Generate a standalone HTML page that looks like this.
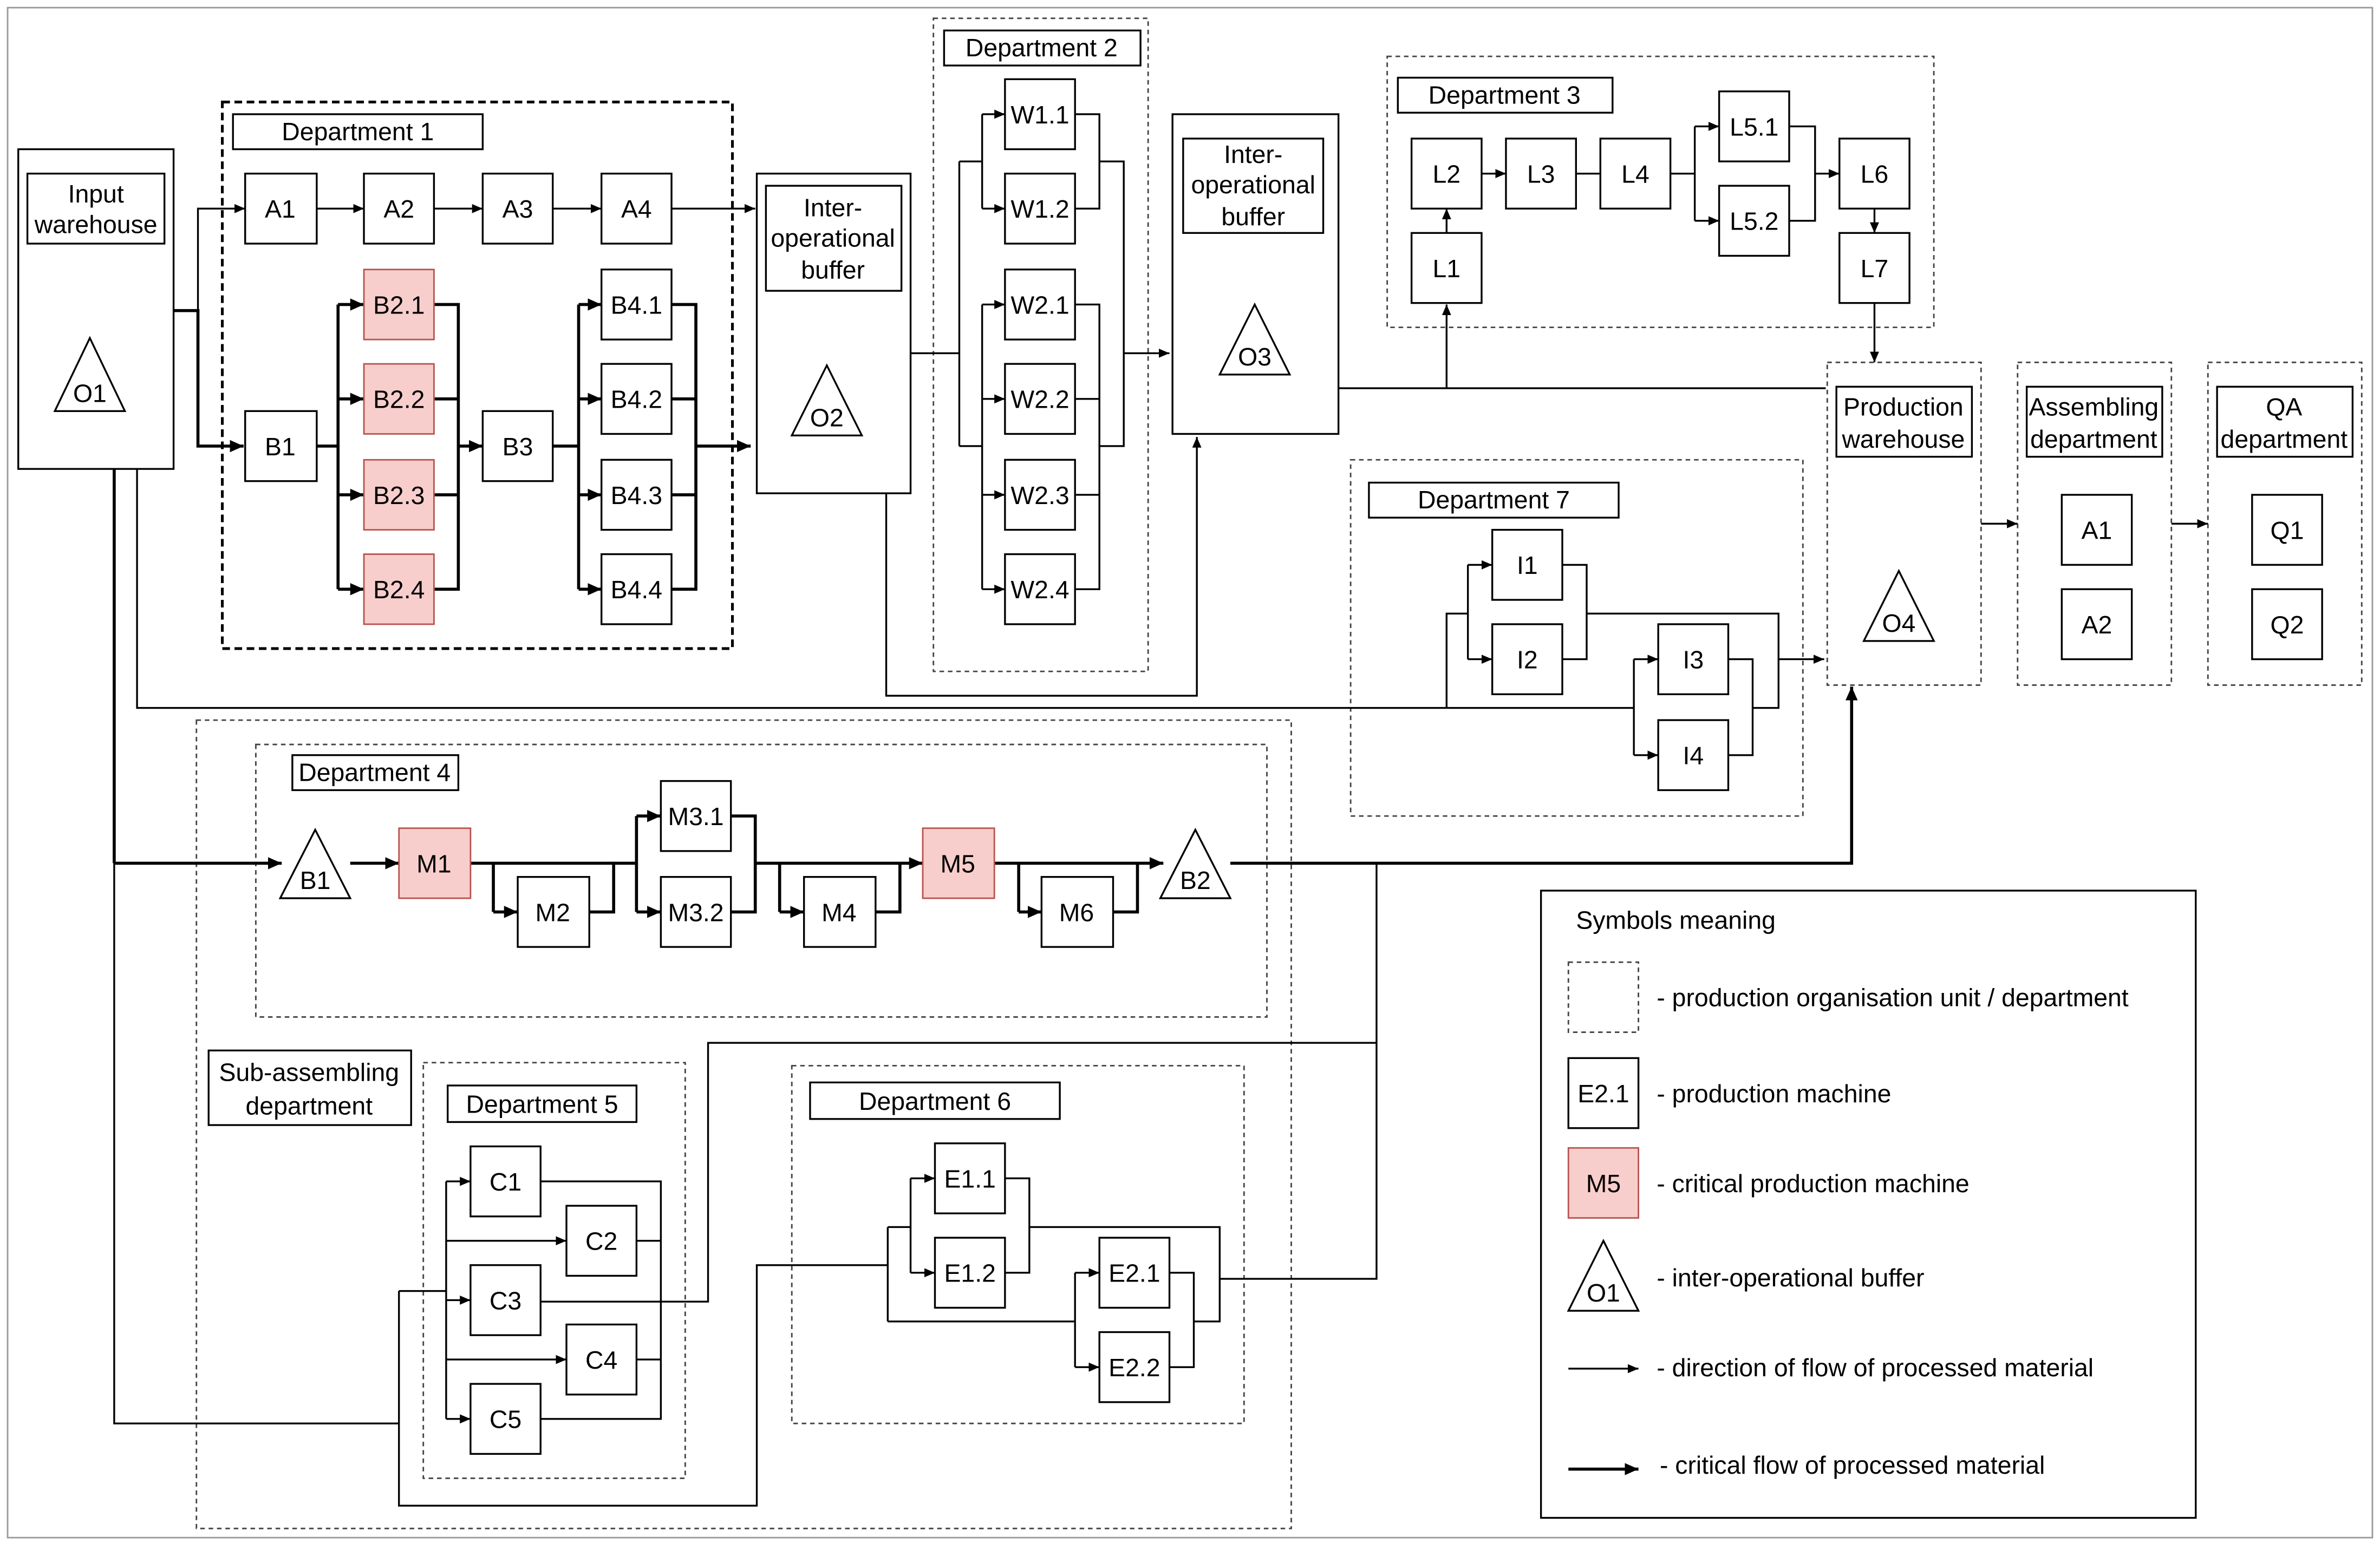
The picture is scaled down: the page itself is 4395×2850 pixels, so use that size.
<!DOCTYPE html>
<html><head><meta charset="utf-8"><style>
html,body{margin:0;padding:0;background:#fff;}
svg{display:block;}
text{font-family:"Liberation Sans",sans-serif;font-size:16.5px;fill:#000;}
</style></head><body>
<svg width="4395" height="2850" viewBox="0 0 1563 1013.5" xmlns="http://www.w3.org/2000/svg">
<defs>
<marker id="a" markerUnits="userSpaceOnUse" markerWidth="8" markerHeight="8" refX="7" refY="4" orient="auto"><path d="M0,1 L7,4 L0,7 z" fill="#000"/></marker>
<marker id="b" markerUnits="userSpaceOnUse" markerWidth="10" markerHeight="10" refX="9" refY="5" orient="auto"><path d="M0,1 L9,5 L0,9 z" fill="#000"/></marker>
</defs>
<rect x="0" y="0" width="1563" height="1013.5" fill="#fff"/>
<rect x="5" y="5" width="1553" height="1005" fill="none" stroke="#999" stroke-width="1"/>

<g fill="#fff" stroke="#000" stroke-width="1.2">
<rect x="12" y="98" width="102" height="210"/>
<rect x="497" y="114" width="101" height="210"/>
<rect x="770" y="75" width="109" height="210"/>
<rect x="1012" y="585" width="430" height="412"/>
</g>

<g fill="none" stroke="#444" stroke-width="1" stroke-dasharray="3,2.5">
<rect x="613" y="12" width="141" height="429"/>
<rect x="911" y="37" width="359" height="178"/>
<rect x="1200" y="238" width="101" height="212"/>
<rect x="1325" y="238" width="101" height="212"/>
<rect x="1450" y="238" width="101" height="212"/>
<rect x="887" y="302" width="297" height="234"/>
<rect x="129" y="473" width="719" height="531"/>
<rect x="168" y="489" width="664" height="179"/>
<rect x="278" y="698" width="172" height="273"/>
<rect x="520" y="700" width="297" height="235"/>
<rect x="1030" y="632" width="46" height="46"/>
</g>
<rect x="146" y="67" width="335" height="359" fill="none" stroke="#000" stroke-width="1.8" stroke-dasharray="5,3"/>

<!-- label boxes -->
<g fill="#fff" stroke="#000" stroke-width="1.2">
<rect x="18" y="114" width="90" height="46"/>
<rect x="153" y="75" width="164" height="23"/>
<rect x="503" y="122" width="89" height="69"/>
<rect x="620" y="20" width="129" height="23"/>
<rect x="777" y="91" width="92" height="62"/>
<rect x="918" y="51" width="141" height="23"/>
<rect x="1206" y="254" width="89" height="46"/>
<rect x="1331" y="254" width="89" height="46"/>
<rect x="1456" y="254" width="89" height="46"/>
<rect x="899" y="317" width="164" height="23"/>
<rect x="192" y="496" width="109" height="23"/>
<rect x="137" y="690" width="133" height="49"/>
<rect x="294" y="713" width="124" height="24"/>
<rect x="532" y="711" width="164" height="24"/>
</g>
<g text-anchor="middle">
<text x="63" y="133">Input</text><text x="63" y="153">warehouse</text>
<text x="235" y="92">Department 1</text>
<text x="547" y="142">Inter-</text><text x="547" y="162">operational</text><text x="547" y="183">buffer</text>
<text x="684" y="37">Department 2</text>
<text x="823" y="107">Inter-</text><text x="823" y="127">operational</text><text x="823" y="148">buffer</text>
<text x="988" y="68">Department 3</text>
<text x="1250" y="273">Production</text><text x="1250" y="294">warehouse</text>
<text x="1375" y="273">Assembling</text><text x="1375" y="294">department</text>
<text x="1500" y="273">QA</text><text x="1500" y="294">department</text>
<text x="981" y="334">Department 7</text>
<text x="246" y="513">Department 4</text>
<text x="203" y="710">Sub-assembling</text><text x="203" y="732">department</text>
<text x="356" y="731">Department 5</text>
<text x="614" y="729">Department 6</text>
</g>

<!-- triangles -->
<g fill="#fff" stroke="#000" stroke-width="1.2">
<path d="M59,222 L82,270 L36,270 Z"/>
<path d="M543,240 L566,286 L520,286 Z"/>
<path d="M824,200 L847,246 L801,246 Z"/>
<path d="M1247,375 L1270,421 L1224,421 Z"/>
<path d="M207,545 L230,590 L184,590 Z"/>
<path d="M785,545 L808,590 L762,590 Z"/>
<path d="M1053,815 L1076,861 L1030,861 Z"/>
</g>
<g text-anchor="middle">
<text x="59" y="264">O1</text><text x="543" y="280">O2</text><text x="824" y="240">O3</text>
<text x="1247" y="415">O4</text><text x="207" y="584">B1</text><text x="785" y="584">B2</text>
<text x="1053" y="855">O1</text>
</g>

<!-- connectors thin -->
<g fill="none" stroke="#000" stroke-width="1.2">
<path d="M130,204 L130,137 L161,137" marker-end="url(#a)"/>
<path d="M208,137 L239,137" marker-end="url(#a)"/>
<path d="M285,137 L317,137" marker-end="url(#a)"/>
<path d="M363,137 L395,137" marker-end="url(#a)"/>
<path d="M441,137 L496,137" marker-end="url(#a)"/>
<!-- dept2 -->
<path d="M598,232 L630,232 M630,106 L630,293 M630,106 L645,106 M630,293 L645,293"/>
<path d="M645,75 L645,137 M645,200 L645,387"/>
<path d="M645,75 L660,75" marker-end="url(#a)"/><path d="M645,137 L660,137" marker-end="url(#a)"/>
<path d="M645,200 L660,200" marker-end="url(#a)"/><path d="M645,262 L660,262" marker-end="url(#a)"/>
<path d="M645,325 L660,325" marker-end="url(#a)"/><path d="M645,387 L660,387" marker-end="url(#a)"/>
<path d="M706,75 L722,75 L722,137 L706,137 M706,200 L722,200 L722,387 L706,387 M706,262 L722,262 M706,325 L722,325"/>
<path d="M722,106 L738,106 L738,293 L722,293"/>
<path d="M738,232 L768,232" marker-end="url(#a)"/>
<path d="M582,324 L582,457 L786,457 L786,287" marker-end="url(#a)"/>
<!-- dept3 -->
<path d="M950,153 L950,137" marker-end="url(#a)"/>
<path d="M973,114 L989,114" marker-end="url(#a)"/>
<path d="M1035,114 L1051,114"/>
<path d="M1097,114 L1113,114 M1113,83 L1113,145"/>
<path d="M1113,83 L1129,83" marker-end="url(#a)"/><path d="M1113,145 L1129,145" marker-end="url(#a)"/>
<path d="M1175,83 L1192,83 L1192,145 L1175,145"/>
<path d="M1192,114 L1208,114" marker-end="url(#a)"/>
<path d="M1231,137 L1231,153" marker-end="url(#a)"/>
<path d="M1231,199 L1231,238" marker-end="url(#a)"/>
<path d="M879,255 L1199,255"/>
<path d="M950,255 L950,200" marker-end="url(#a)"/>
<path d="M1301,344 L1325,344" marker-end="url(#a)"/>
<path d="M1426,344 L1450,344" marker-end="url(#a)"/>
<!-- dept7 -->
<path d="M90,308 L90,465 L1073,465 M950,465 L950,403 L964,403 M964,371 L964,433"/>
<path d="M964,371 L980,371" marker-end="url(#a)"/><path d="M964,433 L980,433" marker-end="url(#a)"/>
<path d="M1026,371 L1042,371 L1042,433 L1026,433 M1042,403 L1168,403 L1168,465 L1151,465"/>
<path d="M1073,433 L1073,496"/>
<path d="M1073,433 L1089,433" marker-end="url(#a)"/><path d="M1073,496 L1089,496" marker-end="url(#a)"/>
<path d="M1135,433 L1151,433 L1151,496 L1135,496"/>
<path d="M1168,433 L1198,433" marker-end="url(#a)"/>
<!-- dept5/6 -->
<path d="M75,567 L75,935 L262,935 M262,848 L262,989 L497,989 L497,831 L583,831"/>
<path d="M262,848 L293,848 M293,776 L293,932"/>
<path d="M293,776 L309,776" marker-end="url(#a)"/><path d="M293,815 L372,815" marker-end="url(#a)"/>
<path d="M293,854 L309,854" marker-end="url(#a)"/><path d="M293,893 L372,893" marker-end="url(#a)"/>
<path d="M293,932 L309,932" marker-end="url(#a)"/>
<path d="M355,776 L434,776 L434,932 L355,932 M418,815 L434,815 M418,893 L434,893"/>
<path d="M355,855 L465,855 L465,685 L904,685 M904,567 L904,840 L801,840"/>
<path d="M583,806 L583,868 M583,806 L598,806 M598,774 L598,836"/>
<path d="M598,774 L614,774" marker-end="url(#a)"/><path d="M598,836 L614,836" marker-end="url(#a)"/>
<path d="M660,774 L676,774 L676,836 L660,836 M676,806 L801,806 L801,868 L784,868"/>
<path d="M583,868 L706,868 M706,836 L706,898"/>
<path d="M706,836 L722,836" marker-end="url(#a)"/><path d="M706,898 L722,898" marker-end="url(#a)"/>
<path d="M768,836 L784,836 L784,898 L768,898"/>
<path d="M1030,899 L1076,899" marker-end="url(#a)"/>
</g>

<!-- thick connectors -->
<g fill="none" stroke="#000" stroke-width="2">
<path d="M114,204 L130,204 L130,293 L160,293" marker-end="url(#b)"/>
<path d="M75,308 L75,567"/>
<path d="M208,293 L222,293 M222,200 L222,387"/>
<path d="M222,200 L239,200" marker-end="url(#b)"/><path d="M222,262 L239,262" marker-end="url(#b)"/>
<path d="M222,325 L239,325" marker-end="url(#b)"/><path d="M222,387 L239,387" marker-end="url(#b)"/>
<path d="M285,200 L301,200 L301,387 L285,387 M285,262 L301,262 M285,325 L301,325"/>
<path d="M301,293 L317,293" marker-end="url(#b)"/>
<path d="M363,293 L380,293 M380,200 L380,387"/>
<path d="M380,200 L395,200" marker-end="url(#b)"/><path d="M380,262 L395,262" marker-end="url(#b)"/>
<path d="M380,325 L395,325" marker-end="url(#b)"/><path d="M380,387 L395,387" marker-end="url(#b)"/>
<path d="M441,200 L457,200 L457,387 L441,387 M441,262 L457,262 M441,325 L457,325"/>
<path d="M457,293 L493,293" marker-end="url(#b)"/>
<path d="M75,567 L185,567" marker-end="url(#b)"/>
<path d="M230,567 L262,567" marker-end="url(#b)"/>
<path d="M309,567 L403,567 M324,567 L324,599"/>
<path d="M324,599 L340,599" marker-end="url(#b)"/>
<path d="M387,599 L403,599 L403,567 L418,567 M418,536 L418,599"/>
<path d="M418,536 L434,536" marker-end="url(#b)"/><path d="M418,599 L434,599" marker-end="url(#b)"/>
<path d="M480,536 L496,536 L496,599 L480,599 M496,567 L591,567 M512,567 L512,599"/>
<path d="M512,599 L528,599" marker-end="url(#b)"/>
<path d="M575,599 L591,599 L591,567"/>
<path d="M591,567 L606,567" marker-end="url(#b)"/>
<path d="M653,567 L747,567 M669,567 L669,599"/>
<path d="M669,599 L684,599" marker-end="url(#b)"/>
<path d="M731,599 L747,599 L747,567"/>
<path d="M747,567 L764,567" marker-end="url(#b)"/>
<path d="M808,567 L1216,567 L1216,451" marker-end="url(#b)"/>
<path d="M1030,965 L1076,965" marker-end="url(#b)"/>
</g>

<!-- machine boxes -->
<g fill="#fff" stroke="#000" stroke-width="1.2">
<rect x="161" y="114" width="47" height="46"/><rect x="239" y="114" width="46" height="46"/>
<rect x="317" y="114" width="46" height="46"/><rect x="395" y="114" width="46" height="46"/>
<rect x="161" y="270" width="47" height="46"/><rect x="317" y="270" width="46" height="46"/>
<rect x="395" y="177" width="46" height="46"/><rect x="395" y="239" width="46" height="46"/>
<rect x="395" y="302" width="46" height="46"/><rect x="395" y="364" width="46" height="46"/>
<rect x="660" y="52" width="46" height="46"/><rect x="660" y="114" width="46" height="46"/>
<rect x="660" y="177" width="46" height="46"/><rect x="660" y="239" width="46" height="46"/>
<rect x="660" y="302" width="46" height="46"/><rect x="660" y="364" width="46" height="46"/>
<rect x="927" y="91" width="46" height="46"/><rect x="989" y="91" width="46" height="46"/>
<rect x="1051" y="91" width="46" height="46"/><rect x="1129" y="60" width="46" height="46"/>
<rect x="1129" y="122" width="46" height="46"/><rect x="1208" y="91" width="46" height="46"/>
<rect x="1208" y="153" width="46" height="46"/><rect x="927" y="153" width="46" height="46"/>
<rect x="1354" y="325" width="46" height="46"/><rect x="1354" y="387" width="46" height="46"/>
<rect x="1479" y="325" width="46" height="46"/><rect x="1479" y="387" width="46" height="46"/>
<rect x="980" y="348" width="46" height="46"/><rect x="980" y="410" width="46" height="46"/>
<rect x="1089" y="410" width="46" height="46"/><rect x="1089" y="473" width="46" height="46"/>
<rect x="340" y="576" width="47" height="46"/><rect x="434" y="513" width="46" height="46"/>
<rect x="434" y="576" width="46" height="46"/><rect x="528" y="576" width="47" height="46"/>
<rect x="684" y="576" width="47" height="46"/>
<rect x="309" y="753" width="46" height="46"/><rect x="372" y="792" width="46" height="46"/>
<rect x="309" y="831" width="46" height="46"/><rect x="372" y="870" width="46" height="46"/>
<rect x="309" y="909" width="46" height="46"/>
<rect x="614" y="751" width="46" height="46"/><rect x="614" y="813" width="46" height="46"/>
<rect x="722" y="813" width="46" height="46"/><rect x="722" y="875" width="46" height="46"/>
<rect x="1030" y="695" width="46" height="46"/>
</g>
<g fill="#f8cecc" stroke="#b85450" stroke-width="1">
<rect x="239" y="177" width="46" height="46"/><rect x="239" y="239" width="46" height="46"/>
<rect x="239" y="302" width="46" height="46"/><rect x="239" y="364" width="46" height="46"/>
<rect x="262" y="544" width="47" height="46"/><rect x="606" y="544" width="47" height="46"/>
<rect x="1030" y="754" width="46" height="46"/>
</g>
<g text-anchor="middle">
<text x="184" y="143">A1</text><text x="262" y="143">A2</text><text x="340" y="143">A3</text><text x="418" y="143">A4</text>
<text x="184" y="299">B1</text><text x="340" y="299">B3</text>
<text x="262" y="206">B2.1</text><text x="262" y="268">B2.2</text><text x="262" y="331">B2.3</text><text x="262" y="393">B2.4</text>
<text x="418" y="206">B4.1</text><text x="418" y="268">B4.2</text><text x="418" y="331">B4.3</text><text x="418" y="393">B4.4</text>
<text x="683" y="81">W1.1</text><text x="683" y="143">W1.2</text><text x="683" y="206">W2.1</text>
<text x="683" y="268">W2.2</text><text x="683" y="331">W2.3</text><text x="683" y="393">W2.4</text>
<text x="950" y="120">L2</text><text x="1012" y="120">L3</text><text x="1074" y="120">L4</text>
<text x="1152" y="89">L5.1</text><text x="1152" y="151">L5.2</text><text x="1231" y="120">L6</text>
<text x="1231" y="182">L7</text><text x="950" y="182">L1</text>
<text x="1377" y="354">A1</text><text x="1377" y="416">A2</text><text x="1502" y="354">Q1</text><text x="1502" y="416">Q2</text>
<text x="1003" y="377">I1</text><text x="1003" y="439">I2</text><text x="1112" y="439">I3</text><text x="1112" y="502">I4</text>
<text x="285" y="573">M1</text><text x="363" y="605">M2</text><text x="457" y="542">M3.1</text><text x="457" y="605">M3.2</text>
<text x="551" y="605">M4</text><text x="629" y="573">M5</text><text x="707" y="605">M6</text>
<text x="332" y="782">C1</text><text x="395" y="821">C2</text><text x="332" y="860">C3</text><text x="395" y="899">C4</text><text x="332" y="938">C5</text>
<text x="637" y="780">E1.1</text><text x="637" y="842">E1.2</text><text x="745" y="842">E2.1</text><text x="745" y="904">E2.2</text>
<text x="1053" y="724">E2.1</text><text x="1053" y="783">M5</text>
</g>
<g>
<text x="1035" y="610">Symbols meaning</text>
<text x="1088" y="661">- production organisation unit / department</text>
<text x="1088" y="724">- production machine</text>
<text x="1088" y="783">- critical production machine</text>
<text x="1088" y="845">- inter-operational buffer</text>
<text x="1088" y="904">- direction of flow of processed material</text>
<text x="1090" y="968">- critical flow of processed material</text>
</g>
</svg>
</body></html>
